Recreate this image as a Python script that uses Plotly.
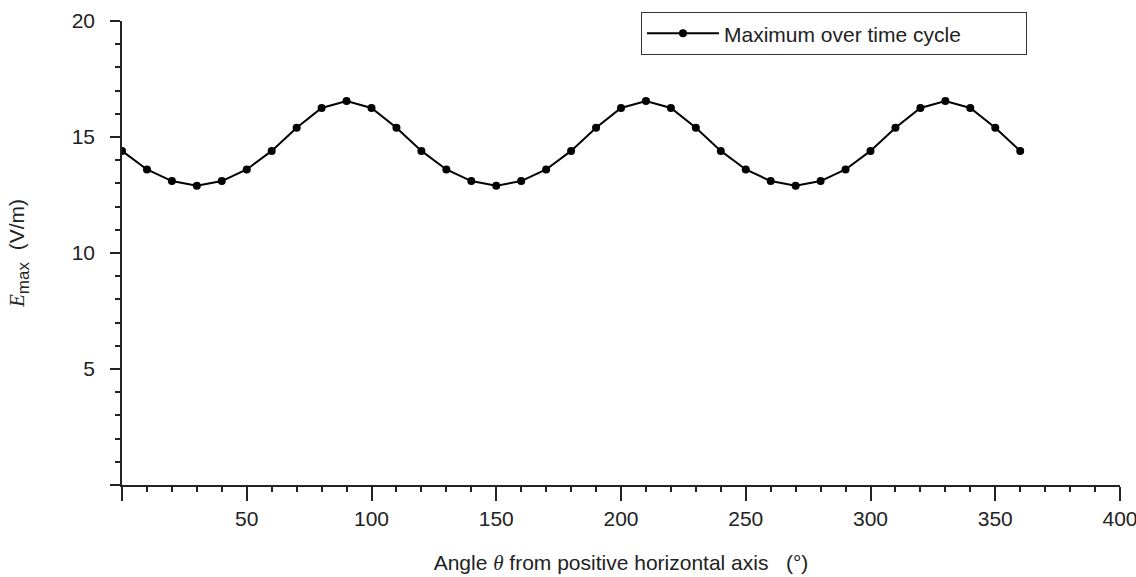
import plotly.graph_objects as go

angles = list(range(0, 361, 10))
E_max = [14.4, 13.6, 13.1, 12.9, 13.1, 13.6, 14.4, 15.4, 16.25, 16.55, 16.25, 15.4,
         14.4, 13.6, 13.1, 12.9, 13.1, 13.6, 14.4, 15.4, 16.25, 16.55, 16.25, 15.4,
         14.4, 13.6, 13.1, 12.9, 13.1, 13.6, 14.4, 15.4, 16.25, 16.55, 16.25, 15.4,
         14.4]
series_name = "Maximum over time cycle"
x_ticks = [0, 50, 100, 150, 200, 250, 300, 350, 400]
x_ticktext = ["", "50", "100", "150", "200", "250", "300", "350", "400"]
y_ticks = [0, 5, 10, 15, 20]
y_ticktext = ["", "5", "10", "15", "20"]

FONT = "Liberation Sans, Arial, sans-serif"
SERIF = "Liberation Serif"
AX = "#222222"

fig = go.Figure()
fig.add_trace(go.Scatter(
    x=angles, y=E_max, mode="lines+markers", name=series_name,
    line=dict(color="black", width=2),
    marker=dict(color="black", size=8),
))

fig.update_layout(
    width=1136, height=577,
    margin=dict(l=122, r=16, t=21, b=92, autoexpand=False),
    paper_bgcolor="white", plot_bgcolor="white",
    font=dict(family=FONT, size=21, color="#222222"),
    showlegend=True,
    legend=dict(
        x=0.52, y=1.019, xanchor="left", yanchor="top",
        orientation="h", entrywidth=297, itemwidth=72,
        bordercolor="#333333", borderwidth=1, bgcolor="white",
        font=dict(size=21, family=FONT, color="#222222"),
    ),
    xaxis=dict(
        range=[0, 400], tickmode="array", tickvals=x_ticks, ticktext=x_ticktext,
        automargin=False, ticklabeloverflow="allow",
        showline=True, linecolor=AX, linewidth=1.5, showgrid=False, zeroline=False,
        ticks="outside", ticklen=14, tickwidth=1.5, tickcolor=AX,
        ticklabelstandoff=0,
        minor=dict(dtick=10, tick0=0, ticks="outside", ticklen=5, tickwidth=1.5, tickcolor=AX, showgrid=False),
        title=dict(
            text=f"Angle <span style='font-family:{SERIF}'><i>θ</i></span> from positive horizontal axis   (°)",
            font=dict(size=21), standoff=26),
    ),
    yaxis=dict(
        range=[0, 20], tickmode="array", tickvals=y_ticks, ticktext=y_ticktext,
        automargin=False, ticklabeloverflow="allow",
        showline=True, linecolor=AX, linewidth=1.5, showgrid=False, zeroline=False,
        ticks="outside", ticklen=10, tickwidth=1.5, tickcolor=AX,
        ticklabelstandoff=11,
        minor=dict(dtick=1, tick0=0, ticks="outside", ticklen=5, tickwidth=1.5, tickcolor=AX, showgrid=False),
        title=dict(
            text=f"<span style='font-family:{SERIF}'><i>E</i></span><sub><span style='font-size:17px'>max</span></sub>  (V/m)",
            font=dict(size=21), standoff=41),
    ),
)

fig.write_html("out.html", config={"displayModeBar": False},
               post_script="document.body.style.margin='0';")
